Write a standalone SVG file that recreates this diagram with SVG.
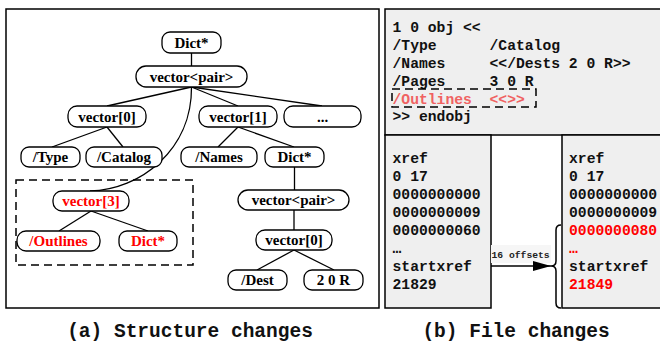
<svg xmlns="http://www.w3.org/2000/svg" width="660" height="344" viewBox="0 0 660 344">
<defs>
<style>
.nd{fill:#fff;stroke:#000;stroke-width:1.3}
.nt{font-family:"Liberation Serif",serif;font-weight:bold;font-size:15px;text-anchor:middle;fill:#000}
.red{fill:#ff0000}
.ln{stroke:#000;stroke-width:1.3;fill:none}
.panel{fill:#efefef;stroke:#000;stroke-width:1.5}
.mono{font-family:"Liberation Mono",monospace;font-weight:bold;font-size:14.7px;fill:#111}
.cap{font-family:"Liberation Mono",monospace;font-weight:bold;font-size:19.5px;fill:#111;text-anchor:middle}
.dash{fill:none;stroke:#000;stroke-width:1.5;stroke-dasharray:8 5}
</style>
<marker id="ah" markerWidth="18" markerHeight="10" refX="18" refY="5" orient="auto" markerUnits="userSpaceOnUse">
<path d="M0,0 L18,5 L0,10 Z" fill="#000"/>
</marker>
</defs>
<rect x="6" y="9" width="373" height="299" fill="#fff" stroke="#000" stroke-width="1.5"/>
<rect class="dash" x="16" y="180" width="177" height="85"/>
<g id="connectors">
<line class="ln" x1="191.5" y1="53" x2="191.5" y2="66"/>
<line class="ln" x1="191.5" y1="87" x2="107" y2="106"/>
<line class="ln" x1="191.5" y1="87" x2="238" y2="106"/>
<line class="ln" x1="191.5" y1="87" x2="322" y2="106"/>
<path class="ln" d="M191.5,87 C192,150 140,190 90,191"/>
<line class="ln" x1="107" y1="127" x2="52" y2="147"/>
<line class="ln" x1="107" y1="127" x2="123" y2="147"/>
<line class="ln" x1="238" y1="127" x2="218" y2="147"/>
<line class="ln" x1="238" y1="127" x2="294" y2="147"/>
<line class="ln" x1="294.5" y1="167" x2="294.5" y2="190"/>
<line class="ln" x1="294" y1="210" x2="294" y2="230"/>
<line class="ln" x1="294" y1="250" x2="257" y2="270"/>
<line class="ln" x1="294" y1="250" x2="334" y2="270"/>
<line class="ln" x1="91" y1="211" x2="59" y2="231"/>
<line class="ln" x1="91" y1="211" x2="148" y2="231"/>
</g>
<g id="n_dict_root"><rect class="nd" x="162" y="32" width="59" height="21" rx="8"/><text class="nt" x="191.5" y="47.5">Dict*</text></g>
<g id="n_vecpair"><rect class="nd" x="136" y="66" width="111" height="21" rx="10"/><text class="nt" x="191.5" y="81.5">vector&lt;pair&gt;</text></g>
<g id="n_vec0"><rect class="nd" x="68" y="106" width="78" height="21" rx="9"/><text class="nt" x="107" y="121.5">vector[0]</text></g>
<g id="n_vec1"><rect class="nd" x="199" y="106" width="78" height="21" rx="9"/><text class="nt" x="238" y="121.5">vector[1]</text></g>
<g id="n_more"><rect class="nd" x="284" y="106" width="77" height="21" rx="9"/><text class="nt" x="322.5" y="121.5">...</text></g>
<g id="n_type"><rect class="nd" x="21" y="147" width="59" height="20" rx="8"/><text class="nt" x="50.5" y="162">/Type</text></g>
<g id="n_catalog"><rect class="nd" x="86" y="147" width="76" height="20" rx="8"/><text class="nt" x="124" y="162">/Catalog</text></g>
<g id="n_names"><rect class="nd" x="181" y="147" width="76" height="20" rx="8"/><text class="nt" x="219" y="162">/Names</text></g>
<g id="n_dict2"><rect class="nd" x="265" y="147" width="59" height="20" rx="8"/><text class="nt" x="294.5" y="162">Dict*</text></g>
<g id="n_vec3"><rect class="nd" x="53" y="191" width="76" height="20" rx="9"/><text class="nt red" x="91" y="206">vector[3]</text></g>
<g id="n_outlines"><rect class="nd" x="17" y="231" width="83" height="20" rx="9"/><text class="nt red" x="58.5" y="246">/Outlines</text></g>
<g id="n_dict3"><rect class="nd" x="119" y="231" width="58" height="20" rx="8"/><text class="nt red" x="148" y="246">Dict*</text></g>
<g id="n_vecpair2"><rect class="nd" x="238" y="190" width="111" height="20" rx="10"/><text class="nt" x="293.5" y="205">vector&lt;pair&gt;</text></g>
<g id="n_vec0b"><rect class="nd" x="256" y="230" width="76" height="20" rx="9"/><text class="nt" x="294" y="245">vector[0]</text></g>
<g id="n_dest"><rect class="nd" x="228" y="270" width="59" height="20" rx="8"/><text class="nt" x="257.5" y="285">/Dest</text></g>
<g id="n_20r"><rect class="nd" x="304" y="270" width="59" height="20" rx="8"/><text class="nt" x="333.5" y="285">2 0 R</text></g>

<g id="obj_box">
<rect class="panel" x="385" y="9" width="285" height="126"/>
<text class="mono" x="392.5" y="32">1 0 obj &lt;&lt;</text>
<text class="mono" x="392.5" y="50">/Type</text><text class="mono" x="489.5" y="50">/Catalog</text>
<text class="mono" x="392.5" y="68">/Names</text><text class="mono" x="489.5" y="68">&lt;&lt;/Dests 2 0 R&gt;&gt;</text>
<text class="mono" x="392.5" y="85.8">/Pages</text><text class="mono" x="489.5" y="85.8">3 0 R</text>
<text class="mono" x="392.5" y="103.5" style="fill:#f06262">/Outlines</text><text class="mono" x="489.5" y="103.5" style="fill:#f06262">&lt;&lt;&gt;&gt;</text>
<rect class="dash" x="392" y="89" width="144" height="18"/>
<text class="mono" x="392.5" y="121">&gt;&gt; endobj</text>
</g>
<g id="xref_old">
<rect class="panel" x="385" y="135" width="106" height="173"/>
<text class="mono" x="392.5" y="163">xref</text>
<text class="mono" x="392.5" y="181">0 17</text>
<text class="mono" x="392.5" y="199">0000000000</text>
<text class="mono" x="392.5" y="217">0000000009</text>
<text class="mono" x="392.5" y="235">0000000060</text>
<text class="mono" x="392.5" y="253">…</text>
<text class="mono" x="392.5" y="271">startxref</text>
<text class="mono" x="392.5" y="289">21829</text>
</g>
<g id="xref_new">
<rect class="panel" x="562" y="135" width="105" height="173"/>
<text class="mono" x="569" y="163">xref</text>
<text class="mono" x="569" y="181">0 17</text>
<text class="mono" x="569" y="199">0000000000</text>
<text class="mono" x="569" y="217">0000000009</text>
<text class="mono" x="569" y="235" style="fill:#ff0000">0000000080</text>
<text class="mono" x="569" y="253" style="fill:#ff0000">…</text>
<text class="mono" x="569" y="271">startxref</text>
<text class="mono" x="569" y="289" style="fill:#ff0000">21849</text>
</g>
<g id="edge_offsets">
<rect x="491" y="245" width="60" height="18" fill="#f6f6f6"/>
<text x="491.5" y="257.5" style="font-family:'Liberation Mono',monospace;font-weight:bold;font-size:9.7px;fill:#222">16 offsets</text>
<line x1="491" y1="266" x2="551" y2="266" stroke="#000" stroke-width="1.5" marker-end="url(#ah)"/>
<path d="M561,225 Q556,225 556,230 L556,261 Q556,266 551,266 Q556,266 556,271 L556,303 Q556,308 561,308" fill="none" stroke="#000" stroke-width="1.5"/>
</g>
<text class="cap" x="190" y="337">(a) Structure changes</text>
<text class="cap" x="516" y="337">(b) File changes</text>
</svg>
